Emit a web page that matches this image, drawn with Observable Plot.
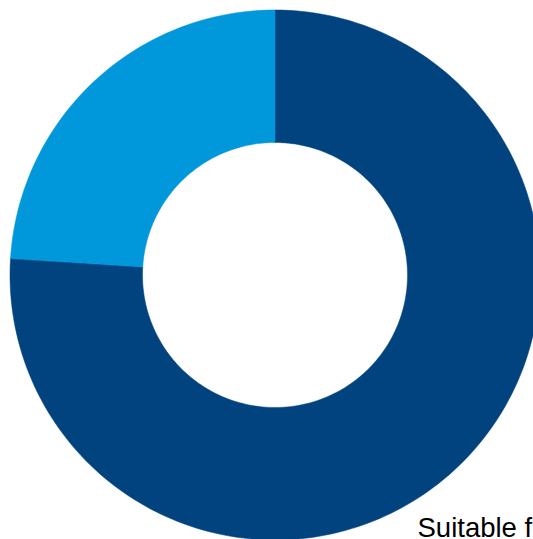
<!DOCTYPE html>
<html>
<head>
<meta charset="utf-8">
<script src="https://cdn.jsdelivr.net/npm/d3@7"></script>
<script src="https://cdn.jsdelivr.net/npm/@observablehq/plot@0.6"></script>
<style>
  html, body { margin: 0; padding: 0; background: #fff; overflow: hidden; }
</style>
</head>
<body>
<div id="chart"></div>
<script>
const categories = ["Suitable", "Other"];
const values = [76, 24];
const colors = ["#01437f", "#0097db"];
const labels = ["Suitable for"];

const W = 533, H = 539;
const cx = 274.5, cy = 274.5, R = 265, rInner = 132.5;

const pie = d3.pie().sort(null).value(d => d.value);
const slices = pie(categories.map((c, i) => ({category: c, value: values[i]})));

const ring = [];
const N = 240;
for (const s of slices) {
  const n = Math.max(2, Math.ceil(N * (s.endAngle - s.startAngle) / (2 * Math.PI)));
  for (let k = 0; k <= n; k++) {
    const a = s.startAngle + (s.endAngle - s.startAngle) * k / n;
    ring.push({category: s.data.category, x: Math.sin(a), y: Math.cos(a)});
  }
  for (let k = n; k >= 0; k--) {
    const a = s.startAngle + (s.endAngle - s.startAngle) * k / n;
    ring.push({category: s.data.category, x: (rInner / R) * Math.sin(a), y: (rInner / R) * Math.cos(a)});
  }
}

const chart = Plot.plot({
  width: W,
  height: H,
  margin: 0,
  x: {domain: [-cx / R, (W - cx) / R], range: [0, W], axis: null},
  y: {domain: [-(H - cy) / R, cy / R], range: [H, 0], axis: null},
  color: {domain: categories, range: colors},
  style: {background: "#fff"},
  marks: [
    Plot.line(ring, {x: "x", y: "y", z: "category", fill: "category", stroke: "category", strokeWidth: 0.5, curve: "linear-closed"}),
    Plot.text(labels, {
      text: d => d,
      frameAnchor: "bottom-left",
      textAnchor: "start",
      lineAnchor: "bottom",
      dx: 417,
      dy: -3,
      fontSize: 27.5,
      fontFamily: "Liberation Sans, Arial, sans-serif",
      fill: "#000"
    })
  ]
});
document.getElementById("chart").appendChild(chart);
</script>
</body>
</html>
